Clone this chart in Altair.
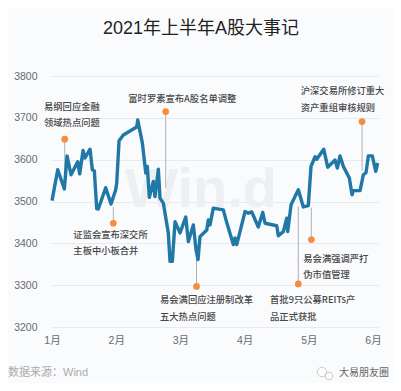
import altair as alt
import pandas as pd

FONT = "Liberation Sans, Noto Sans CJK SC"
CJK = "Noto Sans CJK SC"
BG = "#fafbfd"

months = [1.00,1.089,1.192,1.234,1.296,1.400,1.431,1.483,1.514,1.592,1.628,1.659,1.696,1.721,1.836,1.919,1.992,2.008,2.044,2.111,
          2.319,2.335,2.355,2.407,2.460,2.484,2.516,2.578,2.604,2.656,2.682,2.734,2.811,2.838,2.874,2.916,2.994,3.083,3.123,3.201,
          3.243,3.274,3.305,3.410,3.435,3.461,3.512,3.668,3.710,3.824,3.850,3.877,4.006,4.058,4.111,4.213,4.282,4.318,4.500,4.525,
          4.603,4.656,4.671,4.723,4.836,4.914,4.992,5.034,5.097,5.123,5.232,5.294,5.408,5.444,5.486,5.537,5.631,5.673,5.693,5.798,
          5.849,5.891,5.927,5.989,6.042,6.073]
closes = [3502,3576,3530,3609,3564,3595,3566,3622,3604,3625,3576,3573,3483,3482,3533,3494,3528,3545,3645,3659,
          3678,3695,3679,3640,3568,3584,3510,3548,3512,3577,3508,3496,3425,3357,3357,3452,3425,3463,3404,3444,
          3385,3361,3416,3432,3456,3444,3484,3480,3456,3397,3413,3397,3476,3472,3475,3439,3474,3448,3442,3418,
          3428,3460,3428,3492,3528,3487,3490,3584,3607,3601,3625,3582,3599,3580,3609,3584,3556,3516,3526,3526,
          3564,3569,3609,3609,3572,3592]

event_month = [1.198,1.955,2.771,3.251,4.836,5.039,5.829]
event_dot = [3649,3448,3715,3297,3303,3409,3691]
event_end = [3552,3487,3533,3373,3488,3485,3574]

label_text = ["易纲回应金融","领域热点问题","证监会宣布深交所","主板中小板合并","富时罗素宣布A股名单调整",
              "易会满回应注册制改革","五大热点问题","首批9只公募REITs产","品正式获批",
              "易会满强调严打","伪市值管理","沪深交易所修订重大","资产重组审核规则"]
label_month = [0.875,0.875,1.332,1.332,2.188,2.682,2.682,4.396,4.396,4.914,4.914,4.874,4.874]
label_value = [3726,3688,3420,3381,3744,3264,3224,3264,3224,3363,3325,3763,3723]

line_df = pd.DataFrame({"m": months, "v": closes})
event_df = pd.DataFrame({"m": event_month, "dot": event_dot, "end": event_end})
label_df = pd.DataFrame({"m": label_month, "v": label_value, "t": label_text})

x_scale = alt.Scale(domain=[0.984, 6.093], nice=False, zero=False)
y_scale = alt.Scale(domain=[3200, 3800], nice=False, zero=False)
x_axis = alt.Axis(values=[1,2,3,4,5,6], labelExpr="datum.value + '月'", grid=False, domain=False, ticks=False,
                  labelFontSize=10.5, labelColor="#6a6a6a", labelFont=FONT, labelPadding=8, title=None)
y_axis = alt.Axis(values=[3200,3300,3400,3500,3600,3700,3800], format="d", grid=True, gridColor="#e8eaee", domain=False, ticks=False,
                  labelFontSize=10.5, labelColor="#6a6a6a", labelFont=FONT, labelPadding=14, title=None)

watermark = alt.Chart(pd.DataFrame({"t": ["Win.d"]})).mark_text(
    font="Liberation Sans", fontWeight="bold", fontSize=56, color="#eeeff3", align="center", baseline="alphabetic"
).encode(x=alt.value(150), y=alt.value(131), text="t:N")

base = alt.Chart(line_df)
line = base.mark_line(color="#1f78a6", strokeWidth=3.4, strokeJoin="round", interpolate="linear").encode(
    x=alt.X("m:Q", scale=x_scale, axis=x_axis),
    y=alt.Y("v:Q", scale=y_scale, axis=y_axis),
)
rules = alt.Chart(event_df).mark_rule(color="#b0b0b4", strokeWidth=1).encode(
    x=alt.X("m:Q", scale=x_scale), y=alt.Y("dot:Q", scale=y_scale), y2="end:Q")
dots = alt.Chart(event_df).mark_circle(color="#f58d3c", opacity=1, size=45).encode(
    x=alt.X("m:Q", scale=x_scale), y=alt.Y("dot:Q", scale=y_scale))
labels = alt.Chart(label_df).mark_text(
    font=CJK, fontSize=9.3, fontWeight=500, color="#484848", align="left", baseline="middle"
).encode(x=alt.X("m:Q", scale=x_scale), y=alt.Y("v:Q", scale=y_scale), text="t:N")

footer_l = alt.Chart(pd.DataFrame({"t": ["数据来源：Wind"]})).mark_text(
    font=FONT, fontSize=11, color="#ababab", align="left", baseline="middle"
).encode(x=alt.value(-43), y=alt.value(297), text="t:N")
footer_r = alt.Chart(pd.DataFrame({"t": ["大易朋友圈"]})).mark_text(
    font=CJK, fontSize=10, color="#666666", align="left", baseline="middle"
).encode(x=alt.value(288), y=alt.value(297), text="t:N")
bubble1 = alt.Chart(pd.DataFrame({"a": [1]})).mark_point(
    shape="circle", size=90, stroke="#b8b8b8", fill="white", filled=True, strokeWidth=1
).encode(x=alt.value(271), y=alt.value(296))
bubble2 = alt.Chart(pd.DataFrame({"a": [1]})).mark_point(
    shape="circle", size=60, stroke="#b8b8b8", fill="white", filled=True, strokeWidth=1
).encode(x=alt.value(278), y=alt.value(300))

chart = alt.layer(watermark, rules, line, dots, labels, footer_l, bubble1, bubble2, footer_r).properties(
    width=328, height=251,
    autosize=alt.AutoSizeParams(type="none"),
    padding={"left": 43, "right": 14, "top": 68, "bottom": 56},
    background=BG,
    title=alt.TitleParams("2021年上半年A股大事记", font=FONT, fontSize=18, fontWeight="normal", color="#222222",
                          anchor="middle", dx=-14, offset=33),
).configure_view(stroke=None)

chart.save("out.html", embed_options={"renderer": "svg", "actions": False})
